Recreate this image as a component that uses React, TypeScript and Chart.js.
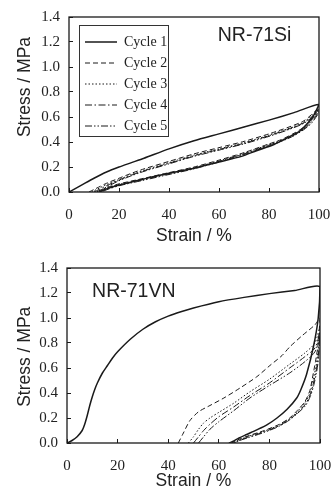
import React, { useEffect, useRef } from 'react';
import { Chart, registerables } from 'chart.js';

Chart.register(...registerables);

// ---------- labels & ticks ----------
const xTickValues = [0, 20, 40, 60, 80, 100];
const yTickLabels = ['0.0', '0.2', '0.4', '0.6', '0.8', '1.0', '1.2', '1.4'];
const cycleLabels = ['Cycle 1', 'Cycle 2', 'Cycle 3', 'Cycle 4', 'Cycle 5'];
const xTitle = 'Strain / %';
const yTitle = 'Stress / MPa';
const siName = 'NR-71Si';
const vnName = 'NR-71VN';

// ---------- NR-71Si (load then unload) ----------
const siC1Strain = [0, 5, 10, 15, 20, 25, 30, 40, 50, 60, 70, 80, 90, 100, 97.5, 95, 92.5, 88, 82, 75, 69, 60, 50, 40, 32, 25, 19, 15, 12];
const siC1Stress = [0, 0.055, 0.11, 0.16, 0.2, 0.235, 0.27, 0.345, 0.41, 0.465, 0.52, 0.575, 0.635, 0.7, 0.6, 0.54, 0.49, 0.44, 0.38, 0.33, 0.285, 0.24, 0.19, 0.15, 0.115, 0.08, 0.05, 0.025, 0];

const siC2Strain = [8, 10, 15, 20, 25, 30, 40, 50, 60, 70, 80, 88, 94, 100, 97, 94, 90, 85, 80, 70, 60, 50, 40, 30, 20, 15, 12];
const siC2Stress = [0, 0.02, 0.07, 0.11, 0.15, 0.185, 0.245, 0.305, 0.355, 0.405, 0.465, 0.52, 0.57, 0.67, 0.58, 0.52, 0.47, 0.42, 0.385, 0.315, 0.255, 0.2, 0.155, 0.11, 0.065, 0.035, 0.005];

const siC3Strain = [9, 12, 15, 20, 25, 30, 40, 50, 60, 70, 80, 88, 94, 100, 97, 94, 90, 85, 80, 70, 60, 50, 40, 30, 20, 15, 12.5];
const siC3Stress = [0, 0.03, 0.06, 0.1, 0.14, 0.175, 0.235, 0.295, 0.345, 0.395, 0.455, 0.51, 0.56, 0.66, 0.57, 0.51, 0.46, 0.415, 0.38, 0.31, 0.25, 0.195, 0.15, 0.105, 0.06, 0.03, 0.005];

const siC4Strain = [10, 12, 15, 20, 25, 30, 40, 50, 60, 70, 80, 88, 94, 100, 97, 94, 90, 85, 80, 70, 60, 50, 40, 30, 20, 15, 13];
const siC4Stress = [0, 0.02, 0.05, 0.095, 0.135, 0.17, 0.23, 0.29, 0.34, 0.39, 0.45, 0.505, 0.555, 0.645, 0.56, 0.505, 0.455, 0.41, 0.375, 0.305, 0.245, 0.19, 0.145, 0.1, 0.055, 0.025, 0.005];

const siC5Strain = [11, 13, 15, 20, 25, 30, 40, 50, 60, 70, 80, 88, 94, 100, 97, 94, 90, 85, 80, 70, 60, 50, 40, 30, 20, 16, 13.5];
const siC5Stress = [0, 0.02, 0.04, 0.09, 0.13, 0.165, 0.225, 0.285, 0.335, 0.385, 0.445, 0.5, 0.55, 0.635, 0.55, 0.5, 0.45, 0.405, 0.37, 0.3, 0.24, 0.185, 0.14, 0.095, 0.05, 0.025, 0.005];

// ---------- NR-71VN (load then unload) ----------
const vnC1Strain = [0, 2, 4, 6, 7, 8, 9, 10, 11, 12, 14, 16, 18, 20, 25, 30, 35, 40, 45, 50, 60, 70, 80, 90, 100, 99.3, 97.5, 94.7, 92.5, 90.8, 87, 83, 79, 75, 71, 68, 65.5, 64];
const vnC1Stress = [0, 0.02, 0.05, 0.1, 0.15, 0.22, 0.3, 0.37, 0.43, 0.48, 0.56, 0.62, 0.68, 0.73, 0.83, 0.91, 0.97, 1.015, 1.05, 1.08, 1.13, 1.165, 1.195, 1.22, 1.25, 1.0, 0.78, 0.55, 0.43, 0.36, 0.27, 0.2, 0.145, 0.105, 0.068, 0.04, 0.012, 0];

const vnC2Strain = [44, 46, 48.6, 52, 56.5, 62, 68.4, 75, 80.2, 85, 88.1, 93, 98, 100, 99.5, 99, 98.2, 97, 96, 94, 91, 88, 84, 78, 72, 68, 65];
const vnC2Stress = [0, 0.08, 0.18, 0.25, 0.3, 0.36, 0.44, 0.53, 0.62, 0.7, 0.77, 0.86, 0.945, 1.0, 0.85, 0.75, 0.65, 0.52, 0.42, 0.33, 0.26, 0.2, 0.15, 0.1, 0.06, 0.03, 0];

const vnC3Strain = [48, 50, 52, 54, 56.5, 60, 66, 72.3, 80, 88, 94, 98, 100, 99.5, 99, 98.3, 97.2, 96, 94, 91, 88, 84, 78, 72, 68, 65.5];
const vnC3Stress = [0, 0.05, 0.11, 0.16, 0.2, 0.245, 0.32, 0.41, 0.51, 0.63, 0.72, 0.8, 0.93, 0.8, 0.7, 0.6, 0.5, 0.4, 0.32, 0.25, 0.195, 0.145, 0.095, 0.055, 0.025, 0];

const vnC4Strain = [50, 52, 54, 56.5, 60, 66, 72.3, 80, 88, 94, 98, 100, 99.6, 99.1, 98.4, 97.4, 96.2, 94.2, 91, 88, 84, 78, 72, 68, 66];
const vnC4Stress = [0, 0.05, 0.1, 0.15, 0.21, 0.29, 0.38, 0.48, 0.6, 0.69, 0.76, 0.88, 0.76, 0.66, 0.57, 0.48, 0.39, 0.31, 0.24, 0.19, 0.14, 0.09, 0.05, 0.02, 0];

const vnC5Strain = [52, 54, 56.5, 60, 66, 72.3, 80, 88, 94, 98, 100, 99.6, 99.2, 98.5, 97.5, 96.3, 94.3, 91, 88, 84, 78, 72, 68, 66.5];
const vnC5Stress = [0, 0.05, 0.11, 0.17, 0.26, 0.36, 0.46, 0.56, 0.65, 0.73, 0.85, 0.74, 0.64, 0.55, 0.46, 0.38, 0.3, 0.235, 0.185, 0.135, 0.085, 0.045, 0.018, 0];

// ---------- styles ----------
const INK = '#1a1a1a';
const dashStyles: number[][] = [[], [5, 3], [1.5, 2], [7, 2.5, 1.5, 2.5], [7, 2, 1.5, 2, 1.5, 2]];
const lineWidths = [1.5, 1, 1, 1, 1];
const SANS = '"Liberation Sans", Arial, sans-serif';
const SERIF = '"Liberation Serif", "Times New Roman", serif';

const toPoints = (xs: number[], ys: number[]) => xs.map((x, i) => ({ x, y: ys[i] }));

function buildDatasets(series: [number[], number[]][]) {
  return series.map(([xs, ys], i) => ({
    label: cycleLabels[i],
    data: toPoints(xs, ys),
    showLine: true,
    borderColor: INK,
    backgroundColor: INK,
    borderWidth: lineWidths[i],
    borderDash: dashStyles[i],
    pointRadius: 0,
    tension: 0.25,
    fill: false,
  }));
}

const framePlugin = {
  id: 'frame',
  afterDraw(chart: any) {
    const { ctx, chartArea: a } = chart;
    ctx.save();
    ctx.strokeStyle = INK;
    ctx.lineWidth = 1.3;
    ctx.setLineDash([]);
    ctx.strokeRect(a.left, a.top, a.right - a.left, a.bottom - a.top);
    const lg = chart.legend;
    if (lg && lg.options.display && lg.legendHitBoxes && lg.legendHitBoxes.length) {
      const hb = lg.legendHitBoxes;
      const l = Math.min(...hb.map((h: any) => h.left));
      const t = Math.min(...hb.map((h: any) => h.top));
      const r = Math.max(...hb.map((h: any) => h.left + h.width));
      const b = Math.max(...hb.map((h: any) => h.top + h.height));
      ctx.lineWidth = 1;
      ctx.strokeStyle = '#333';
      ctx.strokeRect(Math.round(l - 6) + 0.5, Math.round(t - 10) + 0.5, Math.round(r - l + 7), Math.round(b - t + 13));
    }
    ctx.restore();
  },
};

// sample name and the y-axis title, placed through the scales
function makeTextPlugin(name: string, nameX: number, nameY: number, yTitleAt: number) {
  return {
    id: 'panelText',
    afterDraw(chart: any) {
      const { ctx } = chart;
      const xs = chart.scales.x;
      const ys = chart.scales.y;
      ctx.save();
      ctx.font = '19.5px ' + SANS;
      ctx.fillStyle = '#222';
      ctx.textAlign = 'left';
      ctx.textBaseline = 'middle';
      ctx.fillText(name, xs.getPixelForValue(nameX), ys.getPixelForValue(nameY));
      // y axis title
      ctx.font = '17.5px ' + SANS;
      ctx.textAlign = 'center';
      ctx.translate(ys.left + 25, ys.getPixelForValue(yTitleAt));
      ctx.rotate(-Math.PI / 2);
      ctx.fillText(yTitle, 0, 0);
      ctx.restore();
    },
  };
}

const legendShiftPlugin = {
  id: 'legendShift',
  afterLayout(chart: any) {
    const lg = chart.legend;
    if (!lg || !lg.options.display) return;
    const a = chart.chartArea;
    lg.left = a.left + 9;
    lg.right = a.right;
    lg.top = a.top + 11;
    lg.bottom = a.bottom;
  },
};

interface PanelProps {
  series: [number[], number[]][];
  name: string;
  nameX: number;
  nameY: number;
  yTitleAt: number;
  showLegend: boolean;
  height: number;
  padTop: number;
  padRight: number;
  axisWidth: number;
  axisHeight: number;
}

const noEdgePadding = (s: any) => {
  s.paddingLeft = 0;
  s.paddingRight = 0;
  s.paddingTop = 0;
  s.paddingBottom = 0;
};

function Panel(p: PanelProps) {
  const ref = useRef<HTMLCanvasElement>(null);
  useEffect(() => {
    if (!ref.current) return;
    const tickFont = { family: SERIF, size: 15 };
    const titleFont = { family: SANS, size: 17.5 };
    const chart = new Chart(ref.current, {
      type: 'scatter',
      data: { datasets: buildDatasets(p.series) as any },
      options: {
        animation: false,
        responsive: true,
        maintainAspectRatio: false,
        devicePixelRatio: 1,
        events: [],
        layout: { padding: { top: p.padTop, right: p.padRight, left: 0, bottom: 0 } },
        plugins: {
          tooltip: { enabled: false },
          legend: {
            display: p.showLegend,
            position: 'chartArea' as any,
            align: 'start',
            labels: {
              usePointStyle: true,
              pointStyle: 'line',
              pointStyleWidth: 32,
              padding: 7,
              color: '#222',
              font: { family: SERIF, size: 14 },
              generateLabels: (c: any) =>
                Chart.defaults.plugins.legend.labels.generateLabels(c).map((it: any, i: number) => ({
                  ...it,
                  lineDash: dashStyles[i],
                  lineWidth: lineWidths[i],
                  strokeStyle: INK,
                  fillStyle: INK,
                  pointStyle: 'line',
                })),
            },
          },
        },
        scales: {
          x: {
            type: 'linear',
            min: 0,
            max: 100,
            afterBuildTicks: (s: any) => {
              s.ticks = xTickValues.map((v) => ({ value: v }));
            },
            afterFit: (s: any) => {
              s.height = p.axisHeight;
              noEdgePadding(s);
            },
            ticks: { font: tickFont, color: '#222', padding: 18, maxRotation: 0, callback: (v: any) => String(v) },
            grid: { drawOnChartArea: false, drawTicks: true, tickLength: -4, tickColor: INK, tickWidth: 1 },
            border: { display: false },
            title: { display: true, text: xTitle, font: titleFont, color: '#222', padding: { top: 0, bottom: 3.5 } },
          },
          y: {
            type: 'linear',
            min: 0,
            max: 1.4,
            afterBuildTicks: (s: any) => {
              s.ticks = yTickLabels.map((t) => ({ value: parseFloat(t) }));
            },
            afterFit: (s: any) => {
              s.width = p.axisWidth;
              noEdgePadding(s);
            },
            ticks: {
              font: tickFont,
              color: '#222',
              padding: 13,
              callback: (v: any, i: number) => yTickLabels[i],
            },
            grid: { drawOnChartArea: false, drawTicks: true, tickLength: -4, tickColor: INK, tickWidth: 1 },
            border: { display: false },
            title: { display: false, text: yTitle },
          },
        },
      } as any,
      plugins: [legendShiftPlugin, framePlugin, makeTextPlugin(p.name, p.nameX, p.nameY, p.yTitleAt)],
    });
    return () => chart.destroy();
  }, []);
  return (
    <div style={{ position: 'relative', width: 332, height: p.height }}>
      <canvas ref={ref} />
    </div>
  );
}

export default function App() {
  return (
    <div style={{ position: 'absolute', left: 0, top: 0, width: 332, height: 495, background: '#fff', overflow: 'hidden' }}>
      <Panel
        series={[
          [siC1Strain, siC1Stress],
          [siC2Strain, siC2Stress],
          [siC3Strain, siC3Stress],
          [siC4Strain, siC4Stress],
          [siC5Strain, siC5Stress],
        ]}
        name={siName}
        nameX={59.5}
        nameY={1.25}
        yTitleAt={0.84}
        showLegend={true}
        height={250}
        padTop={17}
        padRight={13}
        axisWidth={69}
        axisHeight={58}
      />
      <Panel
        series={[
          [vnC1Strain, vnC1Stress],
          [vnC2Strain, vnC2Stress],
          [vnC3Strain, vnC3Stress],
          [vnC4Strain, vnC4Stress],
          [vnC5Strain, vnC5Stress],
        ]}
        name={vnName}
        nameX={9.9}
        nameY={1.21}
        yTitleAt={0.69}
        showLegend={false}
        height={245}
        padTop={18}
        padRight={12}
        axisWidth={67}
        axisHeight={52}
      />
    </div>
  );
}
